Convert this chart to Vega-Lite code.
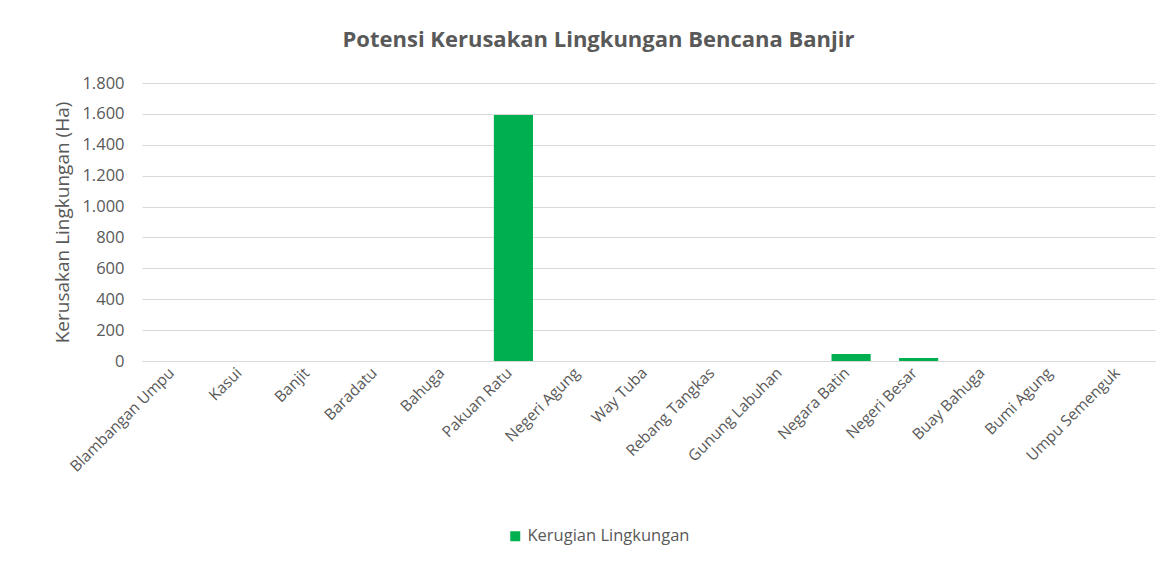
{
  "$schema": "https://vega.github.io/schema/vega-lite/v6.json",
  "width": 1013,
  "height": 278,
  "autosize": {"type": "none"},
  "padding": {"left": 142, "top": 83, "right": 11, "bottom": 205},
  "background": "white",
  "config": {
    "locale": {"number": {"decimal": ",", "thousands": ".", "grouping": [3], "currency": ["Rp", ""]}},
    "view": {"stroke": null},
    "font": "Open Sans"
  },
  "title": {
    "text": "Potensi Kerusakan Lingkungan Bencana Banjir",
    "fontSize": 22,
    "fontWeight": "bold",
    "color": "#595959",
    "font": "Open Sans",
    "anchor": "middle",
    "dx": -50,
    "offset": 23
  },
  "data": {
    "values": [
      {"kecamatan": "Blambangan Umpu", "nilai": 0, "seri": "Kerugian Lingkungan"},
      {"kecamatan": "Kasui", "nilai": 0, "seri": "Kerugian Lingkungan"},
      {"kecamatan": "Banjit", "nilai": 0, "seri": "Kerugian Lingkungan"},
      {"kecamatan": "Baradatu", "nilai": 0, "seri": "Kerugian Lingkungan"},
      {"kecamatan": "Bahuga", "nilai": 0, "seri": "Kerugian Lingkungan"},
      {"kecamatan": "Pakuan Ratu", "nilai": 1592, "seri": "Kerugian Lingkungan"},
      {"kecamatan": "Negeri Agung", "nilai": 0, "seri": "Kerugian Lingkungan"},
      {"kecamatan": "Way Tuba", "nilai": 0, "seri": "Kerugian Lingkungan"},
      {"kecamatan": "Rebang Tangkas", "nilai": 0, "seri": "Kerugian Lingkungan"},
      {"kecamatan": "Gunung Labuhan", "nilai": 0, "seri": "Kerugian Lingkungan"},
      {"kecamatan": "Negara Batin", "nilai": 46, "seri": "Kerugian Lingkungan"},
      {"kecamatan": "Negeri Besar", "nilai": 19, "seri": "Kerugian Lingkungan"},
      {"kecamatan": "Buay Bahuga", "nilai": 0, "seri": "Kerugian Lingkungan"},
      {"kecamatan": "Bumi Agung", "nilai": 0, "seri": "Kerugian Lingkungan"},
      {"kecamatan": "Umpu Semenguk", "nilai": 0, "seri": "Kerugian Lingkungan"}
    ]
  },
  "mark": {"type": "bar"},
  "encoding": {
    "x": {
      "field": "kecamatan",
      "type": "nominal",
      "sort": null,
      "scale": {"paddingInner": 0.42, "paddingOuter": 0.21},
      "axis": {
        "title": null,
        "labelAngle": -45,
        "labelFontSize": 15.5,
        "labelColor": "#595959",
        "labelFont": "Open Sans",
        "labelPadding": 4,
        "labelOffset": -9,
        "ticks": false,
        "domainColor": "#d9d9d9",
        "domainWidth": 1,
        "labelLimit": 300
      }
    },
    "y": {
      "field": "nilai",
      "type": "quantitative",
      "scale": {"domain": [0, 1800]},
      "axis": {
        "title": "Kerusakan Lingkungan (Ha)",
        "titleFontSize": 19,
        "titleFontWeight": "normal",
        "titleColor": "#595959",
        "titleFont": "Open Sans",
        "titlePadding": 9,
        "values": [0, 200, 400, 600, 800, 1000, 1200, 1400, 1600, 1800],
        "format": ",d",
        "labelFontSize": 16.5,
        "labelColor": "#595959",
        "labelFont": "Open Sans",
        "labelPadding": 18,
        "ticks": false,
        "domain": false,
        "gridColor": "#d9d9d9",
        "gridWidth": 1
      }
    },
    "color": {
      "field": "seri",
      "type": "nominal",
      "scale": {"range": ["#00B050"]},
      "legend": {
        "title": null,
        "orient": "none",
        "legendX": 365,
        "legendY": 445,
        "symbolType": "square",
        "symbolSize": 100,
        "labelFontSize": 16.5,
        "labelLimit": 400,
        "labelColor": "#595959",
        "labelFont": "Open Sans"
      }
    }
  }
}
